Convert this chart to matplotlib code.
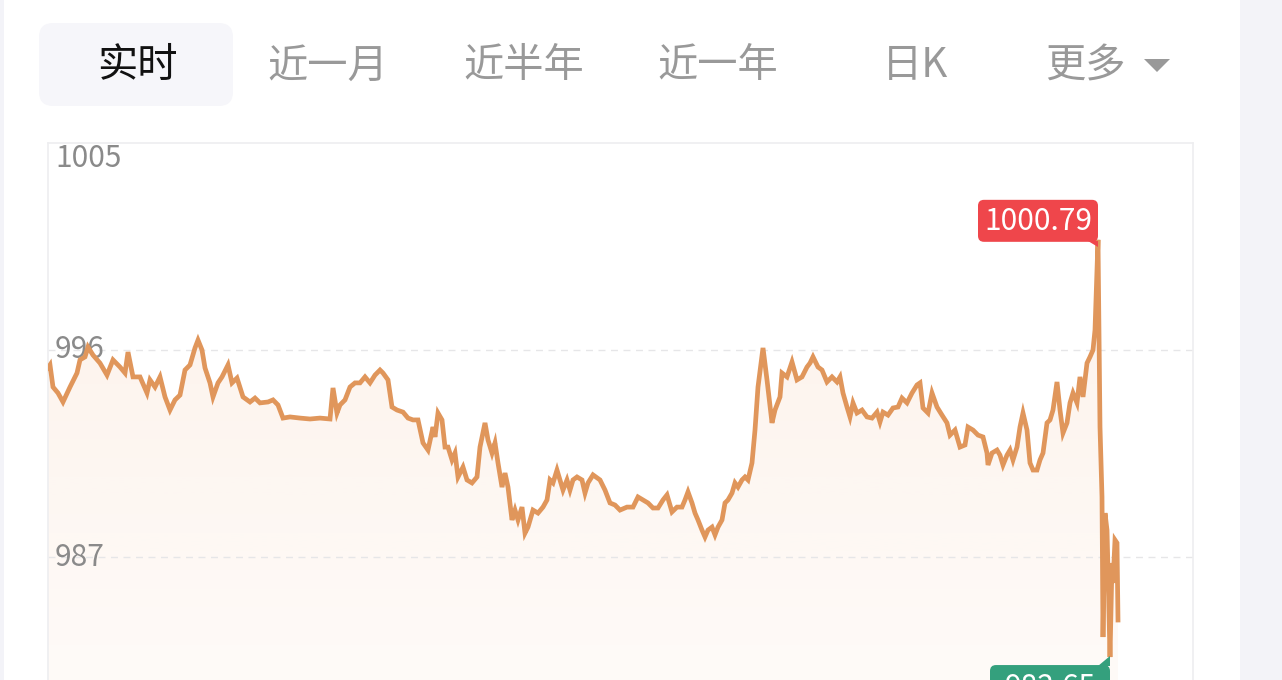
import numpy as np
import matplotlib
matplotlib.use('Agg')
import matplotlib.pyplot as plt
from matplotlib.patches import FancyBboxPatch, Polygon, Rectangle
from matplotlib.colors import to_rgb

plt.rcParams['font.family'] = ['Noto Sans CJK SC', 'DejaVu Sans']

# intraday price, sampled (minute index from session open)
minute = [0, 2, 5, 10, 15, 22, 29, 32, 37, 40, 45, 52, 59, 65, 72, 77, 80, 85, 92, 99,
          102, 107, 112, 117, 122, 127, 132, 137, 142, 147, 150, 154, 157, 162, 165, 170, 174, 180, 184, 189,
          195, 202, 207, 212, 220, 225, 230, 235, 242, 252, 262, 272, 282, 285, 289, 292, 297, 302, 307, 312,
          317, 322, 327, 332, 335, 340, 344, 349, 355, 360, 365, 370, 375, 380, 385, 387, 390, 394, 397, 400,
          404, 407, 410, 415, 419, 424, 429, 432, 437, 440, 444, 447, 450, 454, 457, 460, 464, 467, 470, 474,
          477, 480, 485, 490, 495, 499, 502, 505, 509, 512, 515, 519, 522, 525, 529, 534, 537, 540, 545, 552,
          557, 562, 567, 572, 579, 585, 590, 595, 600, 605, 610, 615, 619, 624, 629, 634, 637, 640, 644, 647,
          650, 654, 657, 660, 664, 667, 670, 674, 677, 680, 684, 687, 690, 694, 697, 700, 704, 707, 710, 715,
          719, 724, 727, 732, 734, 739, 744, 749, 754, 759, 762, 765, 770, 774, 779, 784, 789, 792, 795, 799,
          802, 805, 809, 814, 819, 824, 829, 832, 835, 840, 845, 850, 854, 859, 864, 869, 872, 875, 880, 884,
          889, 894, 899, 902, 907, 912, 917, 920, 925, 930, 935, 939, 940, 944, 949, 952, 955, 959, 962, 965,
          969, 972, 975, 979, 982, 985, 989, 992, 995, 999, 1002, 1005, 1009, 1012, 1015, 1019, 1022, 1025, 1029, 1032,
          1035, 1039, 1042, 1045, 1047, 1050, 1052, 1054, 1055, 1057, 1059, 1060, 1062, 1064, 1065, 1067, 1069, 1070]
price = [995.22, 995.35, 994.39, 994.13, 993.74, 994.39, 995.00, 995.57, 995.70, 996.13, 995.78, 995.43, 994.91, 995.57, 995.26, 995.00, 995.91, 994.83, 994.83, 994.13,
         994.70, 994.39, 994.83, 993.96, 993.39, 993.83, 994.04, 995.13, 995.35, 996.09, 996.43, 996.00, 995.22, 994.57, 993.96, 994.57, 994.83, 995.35, 994.57, 994.78,
         993.96, 993.74, 993.91, 993.70, 993.74, 993.83, 993.61, 993.04, 993.09, 993.04, 993.00, 993.04, 993.00, 994.35, 993.26, 993.61, 993.83, 994.39, 994.57, 994.57,
         994.83, 994.57, 994.91, 995.13, 995.00, 994.70, 993.52, 993.39, 993.30, 993.04, 992.96, 992.96, 991.96, 991.65, 992.65, 992.22, 993.26, 992.96, 991.78, 991.78,
         991.22, 991.52, 990.48, 990.91, 990.35, 990.22, 990.48, 991.78, 992.83, 992.09, 991.52, 991.96, 991.09, 990.04, 990.65, 990.04, 988.61, 989.04, 988.61, 989.17,
         988.04, 988.30, 989.04, 988.91, 989.17, 989.48, 990.35, 990.22, 990.78, 990.35, 989.91, 990.35, 989.91, 990.35, 990.48, 990.35, 989.78, 990.22, 990.57, 990.35,
         989.91, 989.35, 989.26, 989.04, 989.17, 989.17, 989.61, 989.48, 989.35, 989.13, 989.13, 989.48, 989.70, 988.96, 989.17, 989.17, 989.48, 989.83, 989.35, 988.91,
         988.61, 988.17, 987.87, 988.17, 988.30, 987.96, 988.30, 988.61, 989.35, 989.48, 989.78, 990.22, 990.04, 990.35, 990.48, 990.35, 991.09, 992.52, 994.39, 996.09,
         994.70, 992.83, 993.39, 993.96, 995.00, 994.83, 995.48, 994.70, 994.83, 995.26, 995.43, 995.70, 995.26, 995.13, 994.61, 994.83, 994.61, 994.83, 994.13, 993.52,
         993.09, 993.70, 993.26, 993.39, 993.09, 993.04, 993.30, 992.87, 993.30, 993.17, 993.48, 993.52, 993.91, 993.70, 994.13, 994.48, 994.57, 993.48, 993.26, 994.13,
         993.52, 993.17, 992.83, 992.30, 992.52, 991.78, 991.87, 992.65, 992.52, 992.30, 992.22, 991.52, 991.00, 991.52, 991.65, 991.43, 991.00, 991.43, 991.65, 991.22,
         991.78, 992.65, 993.26, 992.52, 991.09, 990.78, 990.78, 991.22, 991.52, 992.83, 992.96, 993.39, 994.61, 993.39, 992.39, 992.83, 993.70, 994.13, 993.70, 994.83,
         993.96, 995.43, 995.70, 996.00, 996.87, 1000.79, 992.65, 989.61, 983.52, 988.91, 988.17, 986.43, 982.65, 986.74, 985.87, 987.74, 987.61, 984.26]
session_len = 1145

tabs = ['实时', '近一月', '近半年', '近一年', '日K', '更多']
tab_x = [137, 328, 524, 718, 915, 1085]
y_ticks = [1005, 996, 987]
y_floor = 978

W, H = 1282, 680
fig = plt.figure(figsize=(W / 100, H / 100), dpi=100)
fig.patch.set_facecolor('white')

# chart axes: 1 data unit on x = 1 px, 23 px per price unit
ax = fig.add_axes([48 / W, 1 - 764 / H, (1193 - 48) / W, (764 - 143) / H])
ax.patch.set_alpha(0)

line_color = '#e0965b'

# gradient fill under the line
verts = list(zip(minute, price)) + [(minute[-1], y_floor), (minute[0], y_floor)]
clip = Polygon(verts, closed=True, facecolor='none', edgecolor='none')
ax.add_patch(clip)
grad = np.zeros((256, 1, 4))
grad[..., :3] = to_rgb('#f2a36a')
grad[..., 3] = np.linspace(0.14, 0.03, 256).reshape(-1, 1)
im = ax.imshow(grad, extent=(0, session_len, y_floor, max(price)), origin='upper',
               aspect='auto', zorder=1, interpolation='bilinear')
im.set_clip_path(clip)

for v in y_ticks[1:]:
    ax.axhline(v, color='#e6e6e8', lw=1, ls=(0, (5, 4)), zorder=2)

ax.plot(minute, price, color=line_color, lw=3.4, solid_joinstyle='miter', zorder=3)

ax.set_xlim(0, session_len)
ax.set_ylim(y_floor, 1005)
ax.set_xticks([])
ax.set_yticks([])
for s in ['left', 'top', 'right']:
    ax.spines[s].set_color('#eeeef0')
    ax.spines[s].set_linewidth(1.2)
ax.spines['bottom'].set_visible(False)

for v in y_ticks:
    ax.text(7, v, str(v), fontsize=21.5, color='#8a8a8a', va='top' if v == y_ticks[0] else 'center',
            ha='left', zorder=2.5)

# overlay in pixel coordinates for the app chrome and labels
ui = fig.add_axes([0, 0, 1, 1], zorder=10)
ui.set_xlim(0, W)
ui.set_ylim(H, 0)
ui.axis('off')
ui.patch.set_alpha(0)

ui.add_patch(Rectangle((1240, 0), W - 1240, H, color='#f3f3f8', lw=0))
ui.add_patch(Rectangle((0, 0), 4, H, color='#f3f3f8', lw=0))
ui.add_patch(FancyBboxPatch((39, 23), 194, 83, boxstyle='round,pad=0,rounding_size=14',
                            fc='#f6f6fa', ec='none'))

for i, (name, x) in enumerate(zip(tabs, tab_x)):
    ui.text(x, 66, name, fontsize=29, ha='center', va='center',
            color='#111111' if i == 0 else '#999999',
            fontweight='medium' if i == 0 else 'normal')
ui.add_patch(Polygon([(1144, 59), (1170, 59), (1157, 72)], closed=True, fc='#999999', ec='none'))


def to_ui(t, v):
    return ui.transData.inverted().transform(ax.transData.transform((t, v)))


i_max = int(np.argmax(price))
px, py = to_ui(minute[i_max], price[i_max])
bw, bh = 120, 42
top = py + 2 - bh
ui.add_patch(FancyBboxPatch((px - bw, top), bw, bh, boxstyle='round,pad=0,rounding_size=6',
                            fc='#ef464b', ec='none'))
ui.add_patch(Polygon([(px - 10, top + bh - 1), (px, top + bh - 1), (px, py + 7)], closed=True,
                     fc='#ef464b', ec='none'))
ui.text(px - bw / 2, top + bh / 2 + 1, f'{price[i_max]:.2f}', fontsize=21.5, color='white',
        ha='center', va='center')

i_min = int(np.argmin(price))
px, py = to_ui(minute[i_min], price[i_min])
top = py + 8
ui.add_patch(FancyBboxPatch((px - bw, top), bw, bh, boxstyle='round,pad=0,rounding_size=6',
                            fc='#34a07d', ec='none'))
ui.add_patch(Polygon([(px - 12, top + 1), (px, top + 1), (px, py - 1)], closed=True,
                     fc='#34a07d', ec='none'))
ui.text(px - bw / 2, top + bh / 2 + 1, f'{price[i_min]:.2f}', fontsize=21.5, color='white',
        ha='center', va='center')

fig.savefig('out.png', dpi=100)
